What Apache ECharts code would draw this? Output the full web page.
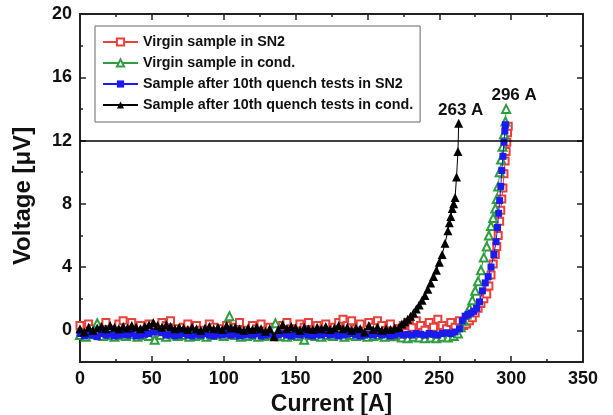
<!DOCTYPE html>
<html><head><meta charset="utf-8">
<script src="https://cdn.jsdelivr.net/npm/echarts@6/dist/echarts.min.js"></script>
<style>html,body{margin:0;padding:0;background:#fff}#c{width:613px;height:415px}</style>
</head><body><div id="c"></div><script>
const seriesNames = ['Virgin sample in SN2', 'Virgin sample in cond.', 'Sample after 10th quench tests in SN2', 'Sample after 10th quench tests in cond.'];
const xTitle = 'Current [A]';
const yTitle = 'Voltage [\u03bcV]';
const yMajorTicks = [0, 4, 8, 12, 16, 20];
const yMinorTicks = [2, 6, 10, 14, 18];
const criterion = 12;
const annotations = ['263 A', '296 A'];

// Virgin sample in SN2 (red, open squares)
const redI = [0,3,6,9,12,15,18,21,24,27,30,33,36,39,42,45,48,51,54,57,60,63,66,69,72,75,78,81,84,87,90,93,96,99,102,105,108,111,114,117,120,123,126,129,132,135,138,141,144,147,150,153,156,159,162,165,168,171,174,177,180,183,186,189,192,195,198,201,204,207,210,213,216,219,222,225,228,231,234,237,240,243,246,249,252,255,258,261,264,267,
  269,271,273,275,277,279,281,283,284.5,286,287.5,289,290,291,292,292.8,293.5,294.3,295,295.8,296.5,297,297.5,298];
const redV = [0.3,-0.2,0.4,0.1,-0.3,0.2,0.5,0.0,-0.3,0.4,
  0.6,0.2,0.5,-0.2,0.3,0.0,0.4,-0.3,0.2,0.5,
  0.3,0.6,0.1,-0.3,0.2,0.4,-0.1,0.3,0.0,-0.3,
  0.4,0.2,-0.2,0.1,0.3,-0.3,0.2,0.5,0.0,-0.2,
  0.3,0.1,0.4,-0.3,0.2,0.0,-0.4,0.3,0.5,0.1,
  -0.2,0.4,0.2,0.5,-0.1,0.3,0.0,0.4,-0.3,0.2,
  0.5,0.7,0.3,0.6,0.1,0.4,-0.2,0.5,0.2,0.6,
  0.3,0.0,0.4,-0.4,0.1,0.3,0.5,0.2,0.6,0.3,
  0.0,0.5,0.2,0.7,0.3,0.1,0.5,0.2,0.6,0.3,
  0.4,0.6,0.8,1.1,1.4,1.7,2.0,2.3,2.8,3.5,4.2,4.8,5.3,6.0,6.9,7.6,8.3,9.0,9.9,10.7,11.3,11.9,12.5,12.9];

// Virgin sample in cond. (green, open triangles)
const greenI = [0,4,8,12,16,20,24,28,32,36,40,44,48,52,56,60,64,68,72,76,80,84,88,92,96,100,104,108,112,116,120,124,128,132,136,140,144,148,152,156,160,164,168,172,176,180,184,188,192,196,200,204,208,212,216,220,224,228,232,236,240,244,248,252,256,260,
  263,265,267,269,271,273,275,277,279,281,283,284.5,286,287.5,289,290,291,292,293,294,295,296,296.5];
const greenV = [-0.3,-0.4,-0.25,0.45,-0.35,-0.3,-0.4,-0.3,-0.35,-0.25,
  -0.4,-0.3,-0.35,-0.6,-0.3,-0.4,-0.25,-0.35,-0.3,-0.4,
  -0.35,-0.3,-0.4,-0.3,-0.25,-0.35,0.9,-0.3,-0.4,-0.35,
  -0.3,-0.4,-0.35,-0.3,0.45,-0.35,-0.4,-0.3,-0.35,-0.6,
  -0.3,-0.35,-0.4,-0.3,-0.35,-0.25,-0.4,-0.3,-0.35,-0.3,
  -0.4,-0.35,-0.3,-0.4,-0.35,-0.3,-0.45,-0.5,-0.4,-0.45,
  -0.5,-0.45,-0.5,-0.4,-0.45,-0.35,
  -0.2,0.2,0.6,1.0,1.4,1.9,2.5,3.1,3.8,4.6,5.3,6.0,6.6,7.1,7.7,8.3,9.1,10.0,10.8,11.6,12.4,13.2,14.0];

// Sample after 10th quench tests in SN2 (blue, filled squares)
const blueI = [0,3,6,9,12,15,18,21,24,27,30,33,36,39,42,45,48,51,54,57,60,63,66,69,72,75,78,81,84,87,90,93,96,99,102,105,108,111,114,117,120,123,126,129,132,135,138,141,144,147,150,153,156,159,162,165,168,171,174,177,180,183,186,189,192,195,198,201,204,207,210,213,216,219,222,225,228,231,234,237,240,243,246,249,252,255,258,261,
  264,266,268,270,272,274,276,278,280,282,284,286,288,289.5,290.5,291.3,292,292.8,293.5,294.3,295,295.6,296];
const blueV = [-0.2,-0.35,-0.25,-0.3,-0.4,-0.2,-0.3,-0.25,-0.35,-0.3,
  -0.25,-0.3,-0.2,-0.35,-0.3,-0.25,-0.2,-0.1,-0.05,-0.15,
  -0.3,-0.25,-0.35,-0.3,-0.2,-0.3,-0.35,-0.25,-0.3,-0.2,
  -0.3,-0.35,-0.25,-0.3,-0.2,-0.3,-0.25,-0.35,-0.3,-0.25,
  -0.3,-0.2,-0.35,-0.3,-0.25,-0.4,-0.3,-0.2,-0.3,-0.35,
  -0.25,-0.3,-0.2,-0.3,-0.35,-0.25,-0.3,-0.2,-0.3,-0.25,
  -0.35,-0.3,-0.25,-0.2,-0.3,-0.35,-0.3,-0.25,-0.3,-0.2,
  -0.3,-0.25,-0.35,-0.3,-0.2,-0.3,-0.25,-0.3,-0.2,-0.25,
  -0.3,-0.2,-0.25,-0.3,-0.2,-0.15,-0.2,-0.1,
  0.1,0.6,0.9,1.0,1.1,1.2,1.4,1.8,2.5,3.0,3.4,4.0,4.8,5.6,6.5,7.4,8.2,9.1,10.1,11.0,11.9,12.6,13.0];

// Sample after 10th quench tests in cond. (black, filled triangles)
const blackI = [0,3,6,9,12,15,18,21,24,27,30,33,36,39,42,45,48,51,54,57,60,63,66,69,72,75,78,81,84,87,90,93,96,99,102,105,108,111,114,117,120,123,126,129,132,135,138,141,144,147,150,153,156,159,162,165,168,171,174,177,180,183,186,189,192,195,198,201,204,207,210,213,216,219,
  222,224,226,228,230,232,234,236,238,240,242,244,246,248,250,252,254,256,257,258,259,260,261,262,263,263.5];
const blackV = [0.1,-0.1,0.2,0.0,0.15,0.25,0.1,0.3,0.2,0.1,
  0.25,0.15,0.3,0.2,0.1,0.25,0.35,0.5,0.3,0.2,
  0.35,0.25,0.1,0.2,0.15,0.05,0.2,0.1,0.0,0.15,
  0.25,0.1,0.2,0.05,0.3,0.15,0.2,0.1,0.0,0.15,
  0.05,0.2,0.1,-0.05,0.1,-0.4,0.05,0.35,0.1,0.25,
  0.15,0.0,0.2,0.1,0.05,0.2,0.1,0.25,0.05,0.15,
  0.3,0.1,0.2,0.0,0.15,0.1,-0.1,0.3,0.05,0.2,
  0.0,0.1,0.05,0.15,
  0.2,0.4,0.55,0.7,0.9,1.1,1.35,1.6,1.9,2.2,2.6,3.0,3.4,3.8,4.3,4.8,5.5,6.3,6.8,7.2,7.7,8.0,8.4,9.7,11.3,13.1];

const FONT = '"Liberation Sans", Arial, Helvetica, sans-serif';
const AX = '#222';
const pairs = (I, V) => I.map((x, i) => [x, V[i]]);

function xAx(pos, showLabel) {
  return {
    type: 'value', position: pos, min: 0, max: 350, interval: 50,
    axisLine: { show: true, onZero: false, lineStyle: { color: AX, width: 2 } },
    axisTick: { show: true, inside: true, length: 6, lineStyle: { color: AX, width: 1.5 } },
    minorTick: { show: true, splitNumber: 2, length: 3, lineStyle: { color: AX, width: 1.5 } },
    axisLabel: { show: showLabel, margin: 8, fontSize: 18, fontWeight: 'bold', fontFamily: FONT, color: '#111' },
    splitLine: { show: false }, minorSplitLine: { show: false },
    name: showLabel ? xTitle : '', nameLocation: 'middle', nameGap: 30,
    nameTextStyle: { fontSize: 23, fontWeight: 'bold', fontFamily: FONT, color: '#111' }
  };
}
function yAx(pos, ticks, len, showLabel) {
  return {
    type: 'value', position: pos, min: -2, max: 20,
    axisLine: { show: true, onZero: false, lineStyle: { color: AX, width: 2 } },
    axisTick: { show: true, inside: true, length: len, customValues: ticks, lineStyle: { color: AX, width: 1.5 } },
    axisLabel: { show: showLabel, customValues: ticks, margin: 8, fontSize: 18, fontWeight: 'bold', fontFamily: FONT, color: '#111' },
    splitLine: { show: false }
  };
}

const chart = echarts.init(document.getElementById('c'), null, { renderer: 'canvas' });
chart.setOption({
  animation: false,
  backgroundColor: '#fff',
  grid: { left: 80, right: 30, top: 14, bottom: 53, containLabel: false, outerBoundsMode: 'none' },
  xAxis: [xAx('bottom', true), xAx('top', false)],
  yAxis: [yAx('left', yMajorTicks, 6, true), yAx('left', yMinorTicks, 3, false),
          yAx('right', yMajorTicks, 6, false), yAx('right', yMinorTicks, 3, false)],
  legend: {
    data: seriesNames, orient: 'vertical', left: 95, top: 26,
    borderColor: '#666', borderWidth: 1, backgroundColor: '#fff',
    padding: [9, 7, 10, 7], itemGap: 7, itemWidth: 35, itemHeight: 9, itemTextGap: 7,
    textStyle: { fontSize: 14.3, fontWeight: 'bold', fontFamily: FONT, color: '#111' }
  },
  graphic: [{
    type: 'text', x: 23, y: 196, rotation: Math.PI / 2,
    style: { text: yTitle, fontSize: 24, fontWeight: 'bold', fontFamily: FONT, fill: '#111', align: 'center', verticalAlign: 'middle' }
  }],
  series: [
    { name: seriesNames[0], type: 'line', data: pairs(redI, redV), symbol: 'emptyRect', symbolSize: 7,
      itemStyle: { color: '#e8403a', borderWidth: 1 }, lineStyle: { color: '#e8403a', width: 1 }, z: 2 },
    { name: seriesNames[1], type: 'line', data: pairs(greenI, greenV), symbol: 'emptyTriangle', symbolSize: 8,
      itemStyle: { color: '#2f9e3f', borderWidth: 1 }, lineStyle: { color: '#2f9e3f', width: 1 }, z: 3,
      markPoint: { symbol: 'circle', symbolSize: 1, itemStyle: { color: 'rgba(0,0,0,0)' },
        label: { show: true, formatter: annotations[1], offset: [8, -14], fontSize: 17, fontWeight: 'bold', fontFamily: FONT, color: '#111' },
        data: [{ coord: [greenI[greenI.length - 1], greenV[greenV.length - 1]] }] } },
    { name: seriesNames[2], type: 'line', data: pairs(blueI, blueV), symbol: 'rect', symbolSize: 7,
      itemStyle: { color: '#1b1bf0', borderWidth: 0 }, lineStyle: { color: '#1b1bf0', width: 1 }, z: 4 },
    { name: seriesNames[3], type: 'line', data: pairs(blackI, blackV), symbol: 'triangle', symbolSize: 9,
      itemStyle: { color: '#000', borderWidth: 0 }, lineStyle: { color: '#000', width: 1 }, z: 5,
      markLine: { silent: true, symbol: 'none', label: { show: false },
        lineStyle: { color: '#000', width: 1.5, type: 'solid' }, data: [{ yAxis: criterion }] },
      markPoint: { symbol: 'circle', symbolSize: 1, itemStyle: { color: 'rgba(0,0,0,0)' },
        label: { show: true, formatter: annotations[0], offset: [2, -13], fontSize: 17, fontWeight: 'bold', fontFamily: FONT, color: '#111' },
        data: [{ coord: [blackI[blackI.length - 1], blackV[blackV.length - 1]] }] } }
  ]
});
</script></body></html>
